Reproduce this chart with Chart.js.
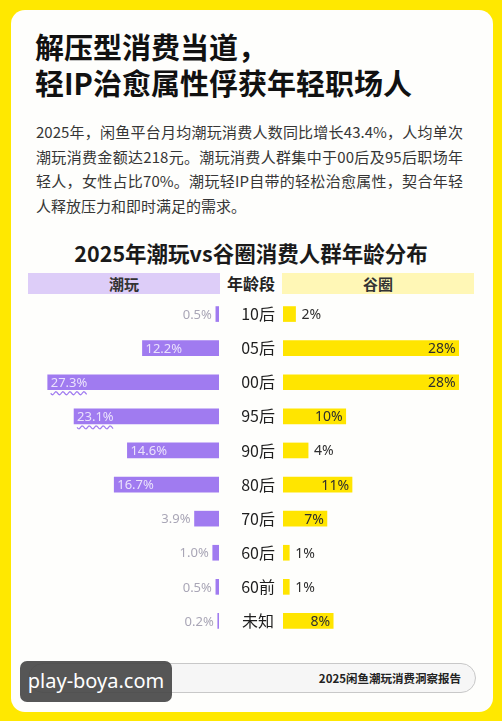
<!DOCTYPE html>
<html>
<head>
<meta charset="utf-8">
<script src="https://cdn.jsdelivr.net/npm/chart.js@4/dist/chart.umd.min.js"></script>
<style>
  html, body { margin: 0; padding: 0; }
  body { width: 502px; height: 721px; background: #FFE800; position: relative; overflow: hidden;
         font-family: "Noto Sans CJK SC", "Noto Sans", sans-serif; }
  .card { position: absolute; left: 11px; top: 10px; width: 482px; height: 702px; background: #FEFEFC; border-radius: 14px; }
  .abs { position: absolute; }
  .title { left: 35px; top: 28px; font-size: 29px; font-weight: 700; line-height: 36px; color: #111; white-space: nowrap; }
  .para { left: 36px; top: 120px; width: 427px; font-size: 15px; line-height: 24.5px; color: #363636; }
  .para div { text-align: justify; text-align-last: justify; white-space: nowrap; }
  .para div.last { text-align-last: left; }
  .ctitle { left: 0; width: 502px; top: 239px; text-align: center; font-size: 21.5px; font-weight: 700; color: #1a1a1a; line-height: 28px; }
  .hdr { top: 273px; height: 21px; line-height: 21px; text-align: center; font-size: 15px; font-weight: 700; color: #333; }
  .hdr.l { left: 28px; width: 192px; background: #DDCDF8; }
  .hdr.m { left: 220px; width: 62px; font-size: 16px; color: #222; }
  .hdr.r { left: 282px; width: 192px; background: #FFF7B6; }
  .pill { left: 28px; top: 663px; width: 446px; height: 28px; border: 1px solid #C8C8C8; border-radius: 15px; background: #F6F6F6; }
  .pill span { position: absolute; right: 14px; top: 0; line-height: 28px; font-size: 11.5px; font-weight: 700; color: #222; }
  .wm { left: 20px; top: 661px; width: 152px; height: 41px; background: rgba(72,72,72,0.92); border-radius: 7px;
        color: #fff; font-family: "Noto Sans", sans-serif; font-size: 20px; line-height: 40px; text-align: center; }
</style>
</head>
<body>
<div class="card"></div>
<div class="abs title">解压型消费当道，<br>轻IP治愈属性俘获年轻职场人</div>
<div class="abs para">
  <div>2025年，闲鱼平台月均潮玩消费人数同比增长43.4%，人均单次</div>
  <div>潮玩消费金额达218元。潮玩消费人群集中于00后及95后职场年</div>
  <div>轻人，女性占比70%。潮玩轻IP自带的轻松治愈属性，契合年轻</div>
  <div class="last">人释放压力和即时满足的需求。</div>
</div>
<div class="abs ctitle">2025年潮玩vs谷圈消费人群年龄分布</div>
<div class="abs hdr l">潮玩</div>
<div class="abs hdr m">年龄段</div>
<div class="abs hdr r">谷圈</div>

<canvas id="leftChart" class="abs" width="192" height="341" style="left:27px;top:297px;width:192px;height:341px"></canvas>
<canvas id="rightChart" class="abs" width="256" height="341" style="left:219px;top:297px;width:256px;height:341px"></canvas>

<div class="abs pill"><span>2025闲鱼潮玩消费洞察报告</span></div>
<div class="abs wm">play-boya.com</div>

<script>
const ageGroups = ['10后', '05后', '00后', '95后', '90后', '80后', '70后', '60后', '60前', '未知'];
const chaowan = [0.5, 12.2, 27.3, 23.1, 14.6, 16.7, 3.9, 1.0, 0.5, 0.2];
const guquan = [2, 28, 28, 10, 4, 11, 7, 1, 1, 8];
const chaowanLabels = ['0.5%', '12.2%', '27.3%', '23.1%', '14.6%', '16.7%', '3.9%', '1.0%', '0.5%', '0.2%'];
const guquanLabels = ['2%', '28%', '28%', '10%', '4%', '11%', '7%', '1%', '1%', '8%'];
const wavyRows = ['00后', '95后'];

const PURPLE = '#A07BF0';
const YELLOW = '#FFE500';
const AXIS_MAX = 30.6;

// 막대 옆/안쪽 라벨
const barLabels = {
  id: 'barLabels',
  afterDatasetsDraw(chart, args, opts) {
    const ctx = chart.ctx;
    const meta = chart.getDatasetMeta(0);
    ctx.save();
    ctx.font = opts.size + 'px "Noto Sans", sans-serif';
    ctx.textBaseline = 'middle';
    meta.data.forEach((bar, i) => {
      const text = opts.labels[i];
      const tw = ctx.measureText(text).width;
      const w = Math.abs(bar.base - bar.x);
      const inside = w >= tw + 10;
      let tx;
      if (opts.side === 'left') {
        if (inside) {
          ctx.fillStyle = 'rgba(255,255,255,0.78)';
          ctx.textAlign = 'left';
          tx = bar.x + 3;
        } else {
          ctx.fillStyle = '#A9A6B6';
          ctx.textAlign = 'right';
          tx = bar.x - 4;
        }
      } else {
        ctx.fillStyle = '#2e2e2e';
        if (inside) {
          ctx.textAlign = 'right';
          tx = bar.x - 3;
        } else {
          ctx.textAlign = 'left';
          tx = bar.x + 6;
        }
      }
      ctx.fillText(text, tx, bar.y + 1);

      if (opts.wavy && opts.wavy.includes(chart.data.labels[i])) {
        const x0 = ctx.textAlign === 'left' ? tx : tx - tw;
        const y0 = bar.y + 11;
        ctx.beginPath();
        ctx.strokeStyle = PURPLE;
        ctx.lineWidth = 1.2;
        for (let x = 0; x <= tw; x += 1) {
          const y = y0 + Math.sin(x / 7 * Math.PI * 2) * 1.5;
          if (x === 0) ctx.moveTo(x0 + x, y); else ctx.lineTo(x0 + x, y);
        }
        ctx.stroke();
      }
    });
    ctx.restore();
  }
};

const baseOptions = (side, labels, showAxis) => {
  const yScale = {
    display: showAxis,
    grid: { display: false },
    border: { display: false },
    ticks: {
      crossAlign: 'center',
      padding: 0,
      color: '#1e1e1e',
      font: { family: '"Noto Sans CJK SC", sans-serif', size: 16 }
    }
  };
  if (showAxis) {
    yScale.afterFit = (scale) => {
      scale.width = 64;
      scale.paddingTop = 0;
      scale.paddingBottom = 0;
    };
  }
  return {
    indexAxis: 'y',
    responsive: false,
    maintainAspectRatio: false,
    animation: false,
    layout: { padding: 0 },
    plugins: {
      legend: { display: false },
      tooltip: { enabled: false },
      barLabels: { side: side, labels: labels, size: side === 'left' ? 13 : 14, wavy: side === 'left' ? wavyRows : null }
    },
    scales: {
      x: { display: false, min: 0, max: AXIS_MAX, reverse: side === 'left' },
      y: yScale
    }
  };
};

new Chart(document.getElementById('leftChart'), {
  type: 'bar',
  data: {
    labels: ageGroups,
    datasets: [{ data: chaowan, backgroundColor: PURPLE, barThickness: 15, borderWidth: 0 }]
  },
  options: baseOptions('left', chaowanLabels, false),
  plugins: [barLabels]
});

new Chart(document.getElementById('rightChart'), {
  type: 'bar',
  data: {
    labels: ageGroups,
    datasets: [{ data: guquan, backgroundColor: YELLOW, barThickness: 15, borderWidth: 0 }]
  },
  options: baseOptions('right', guquanLabels, true),
  plugins: [barLabels]
});
</script>
</body>
</html>
